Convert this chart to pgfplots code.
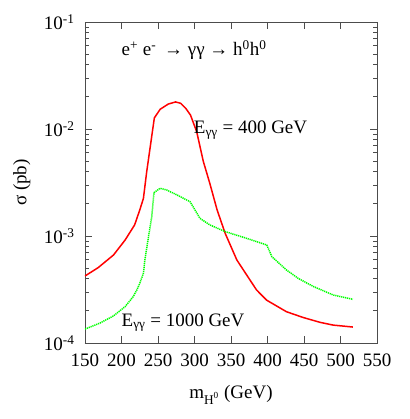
\documentclass[border=0pt]{standalone}
\usepackage{fontspec}
\setmainfont{Liberation Serif}
\usepackage{pgfplots}
\pgfplotsset{compat=1.18}
\begin{document}
\fontsize{19}{23}\selectfont
\begin{tikzpicture}
\useasboundingbox (-85pt,-76pt) rectangle (324pt,343pt);
\begin{axis}[
  scale only axis, width=292pt, height=321pt,
  at={(0pt,0pt)}, anchor=south west,
  xmin=150, xmax=550, ymin=1e-4, ymax=1e-1, ymode=log,
  xtick={150,200,...,550},
  ytick={1e-4,1e-3,1e-2,1e-1},
  yticklabels={10\textsuperscript{-4},10\textsuperscript{-3},10\textsuperscript{-2},10\textsuperscript{-1}},
  tick align=inside, tick pos=both,
  major tick length=7pt, minor tick length=4pt,
  axis line style={black!70, line width=0.8pt},
  every tick/.style={black!70, line width=0.6pt},
  tick label style={font=\fontsize{19}{23}\selectfont},
  /pgf/number format/assume math mode=true,
  /pgf/number format/set thousands separator={},
  xticklabel style={yshift=-4pt},
  yticklabel style={xshift=-4pt},
  xlabel={m\textsubscript{H\textsuperscript{0}} (GeV)},
  xlabel style={at={(axis description cs:0.5,-0.112)}, anchor=north, font=\fontsize{19}{23}\selectfont},
  ylabel={σ (pb)},
  ylabel style={at={(axis description cs:-0.216,0.5)}, anchor=center, rotate=0, font=\fontsize{19}{23}\selectfont},
]
\addplot[red, line width=1.5pt] coordinates {
(150,4.23e-4) (168,5.06e-4) (189,6.64e-4) (205,9.18e-4) (218,1.27e-3)
(225,1.75e-3) (230,2.24e-3) (234.5,3.98e-3) (245,1.27e-2) (253,1.53e-2)
(264,1.71e-2) (274,1.79e-2) (281,1.74e-2) (288,1.56e-2) (294.5,1.35e-2)
(303,9.44e-3) (312,5.0e-3) (321,3.10e-3) (331,1.75e-3) (342,1.06e-3)
(358,5.97e-4) (372,4.27e-4) (385,3.13e-4) (399,2.51e-4) (426,1.96e-4)
(449,1.73e-4) (472,1.56e-4) (490,1.47e-4) (517,1.41e-4)
};
\addplot[color={rgb,255:red,0;green,255;blue,0}, line width=1.5pt, dash pattern=on 1.2pt off 0.8pt] coordinates {
(150,1.35e-4) (170,1.53e-4) (189,1.79e-4) (205,2.19e-4) (216,2.71e-4)
(221,3.13e-4) (225,3.61e-4) (230,4.48e-4) (232,5.97e-4) (237,9.86e-4)
(241.4,1.51e-3) (244.5,2.54e-3) (252.7,2.79e-3) (262,2.69e-3) (276,2.42e-3)
(294,2.09e-3) (307.5,1.46e-3) (321,1.27e-3) (342,1.10e-3) (371,9.53e-4)
(399,8.24e-4) (406,6.41e-4) (426,4.81e-4) (442,4.02e-4) (463,3.37e-4)
(490,2.81e-4) (517,2.56e-4)
};
\node[anchor=west, inner sep=0pt] at (axis cs:200,0.055) {e\textsuperscript{+} e\textsuperscript{-} \,→ γγ → h\textsuperscript{0}h\textsuperscript{0}};
\node[anchor=west, inner sep=0pt] at (axis cs:299,0.0098) {E\textsubscript{γγ} = 400 GeV};
\node[anchor=west, inner sep=0pt] at (axis cs:200,1.55e-4) {E\textsubscript{γγ} = 1000 GeV};
\end{axis}
\end{tikzpicture}
\end{document}
